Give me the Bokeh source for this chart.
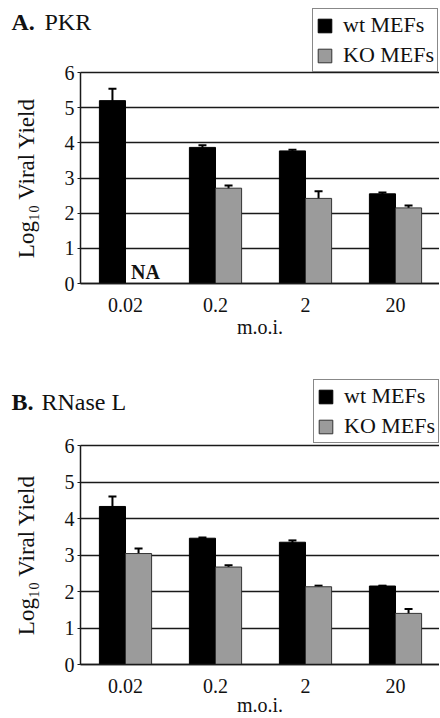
from bokeh.plotting import figure
from bokeh.models import (ColumnDataSource, Whisker, TeeHead, Label, Legend, LegendItem,
                          FixedTicker, Range1d)
from bokeh.layouts import column
from bokeh.embed import file_html
from bokeh.resources import INLINE
from bokeh.core.properties import value

categories = ["0.02", "0.2", "2", "20"]
y_ticks = [0, 1, 2, 3, 4, 5, 6]

pkr_wt = [5.2, 3.87, 3.77, 2.55]
pkr_wt_err = [0.34, 0.06, 0.03, 0.04]
pkr_ko = [0.0, 2.71, 2.42, 2.15]
pkr_ko_err = [0.0, 0.08, 0.2, 0.07]

rnase_wt = [4.33, 3.46, 3.35, 2.15]
rnase_wt_err = [0.27, 0.02, 0.05, 0.01]
rnase_ko = [3.04, 2.67, 2.13, 1.40]
rnase_ko_err = [0.14, 0.05, 0.03, 0.12]

titles = [("A.", "PKR"), ("B.", "RNase L")]
series_names = ["wt MEFs", "KO MEFs"]
x_label = "m.o.i."
y_label = "Log\u2081\u2080 Viral Yield"

FONT = "Liberation Serif"
WT_COLOR = "#000000"
KO_COLOR = "#9b9b9b"
KO_LINE = "#333333"
INK = "#111111"
BAR_W = 0.29
W = 439           # figure width in px
AX_LEFT = 80      # px from figure left to the y axis
CAT_PX = 90       # px per category


def make_panel(wt, wt_err, ko, ko_err, title, height, px_top, px_bottom, title_y, title2_x,
               legend_xy, xlabel_standoff, na=False):
    # px_top: px from figure top to the 6-line; px_bottom: px from 0-line to figure bottom
    unit = (height - px_top - px_bottom) / 6.0
    n = len(categories)
    x0 = -AX_LEFT / CAT_PX
    p = figure(width=W, height=height,
               x_range=Range1d(x0, x0 + W / CAT_PX),
               y_range=Range1d(-px_bottom / unit, 6 + px_top / unit),
               min_border=0, min_border_left=0, min_border_right=0,
               min_border_top=0, min_border_bottom=0,
               output_backend="svg", toolbar_location=None)
    p.outline_line_color = None
    p.xgrid.grid_line_color = None
    centers = [i + 0.5 for i in range(n)]

    yax = p.yaxis[0]
    xax = p.xaxis[0]
    yax.fixed_location = 0
    xax.fixed_location = 0
    yax.bounds = (0, 6)
    xax.bounds = (0, n)
    yax.ticker = FixedTicker(ticks=y_ticks)
    xax.ticker = FixedTicker(ticks=centers)
    xax.major_label_overrides = {c: cat for c, cat in zip(centers, categories)}
    yax.minor_tick_line_color = None
    xax.minor_tick_line_color = None
    yax.major_tick_out = 3
    yax.major_tick_in = 0
    yax.major_label_standoff = 3
    xax.major_label_standoff = 8
    for ax in (xax, yax):
        ax.axis_line_width = 1.5
        ax.axis_line_color = "#1a1a1a"
        ax.major_tick_line_color = "#1a1a1a" if ax is yax else None
        ax.major_label_text_font = FONT
        ax.major_label_text_font_size = "20px"
        ax.major_label_text_color = INK
        ax.axis_label_text_font = FONT
        ax.axis_label_text_font_style = "normal"
        ax.axis_label_text_color = INK
    xax.axis_label = x_label
    xax.axis_label_text_font_size = "20px"
    xax.axis_label_standoff = xlabel_standoff
    yax.axis_label = y_label
    yax.axis_label_text_font_size = "23px"
    yax.axis_label_standoff = 23

    g = p.ygrid[0]
    g.grid_line_color = "#1a1a1a"
    g.grid_line_width = 1.5
    g.ticker = FixedTicker(ticks=y_ticks)
    if "cross_bounds" in g.properties():
        g.cross_bounds = (0, n)
    else:
        g.grid_line_color = None
        p.segment(x0=[0] * len(y_ticks), x1=[n] * len(y_ticks), y0=y_ticks, y1=y_ticks,
                  line_color="#1a1a1a", line_width=1.5)

    xw = [c - BAR_W / 2 for c in centers]
    xk = [c + BAR_W / 2 for c in centers]
    src = ColumnDataSource(dict(x=xw, top=wt,
                                lo=[v - e for v, e in zip(wt, wt_err)],
                                hi=[v + e for v, e in zip(wt, wt_err)]))
    keep = [i for i in range(n) if not (na and i == 0)]
    ksrc = ColumnDataSource(dict(x=[xk[i] for i in keep], top=[ko[i] for i in keep],
                                 lo=[ko[i] - ko_err[i] for i in keep],
                                 hi=[ko[i] + ko_err[i] for i in keep]))
    r_wt = p.vbar(x="x", top="top", width=BAR_W, source=src,
                  fill_color=WT_COLOR, line_color="#000000", line_width=1)
    r_ko = p.vbar(x="x", top="top", width=BAR_W, source=ksrc,
                  fill_color=KO_COLOR, line_color=KO_LINE, line_width=1)
    for s in (src, ksrc):
        p.add_layout(Whisker(source=s, base="x", lower="lo", upper="hi",
                             line_color="#000000", line_width=2,
                             upper_head=TeeHead(size=8, line_width=2, line_color="#000000"),
                             lower_head=TeeHead(size=8, line_width=2, line_color="#000000")))
    if na:
        na_src = ColumnDataSource(dict(x=[xk[0]], y=[0.0], t=["NA"]))
        p.text(x="x", y="y", text="t", source=na_src,
               text_font=value(FONT), text_font_style="bold", text_font_size="20px",
               text_baseline="bottom", text_align="center", x_offset=7, y_offset=-1,
               text_color=INK)

    p.add_layout(Label(x=11, y=height - title_y, x_units="screen", y_units="screen",
                       text=title[0], text_font=FONT, text_font_style="bold",
                       text_font_size="24px", text_baseline="middle", text_color=INK))
    p.add_layout(Label(x=title2_x, y=height - title_y, x_units="screen", y_units="screen",
                       text=title[1], text_font=FONT, text_font_style="normal",
                       text_font_size="24px", text_baseline="middle", text_color=INK))

    legend = Legend(items=[LegendItem(label=series_names[0], renderers=[r_wt]),
                           LegendItem(label=series_names[1], renderers=[r_ko])],
                    location=legend_xy, margin=0, padding=3, spacing=4,
                    glyph_width=17, glyph_height=17, label_standoff=10, label_height=24,
                    label_text_font=FONT, label_text_font_size="22px",
                    label_text_color=INK,
                    border_line_color=INK, border_line_width=1.5,
                    background_fill_color="white", background_fill_alpha=1)
    p.add_layout(legend)
    return p


# panel A: figure spans page y 1..360; 6-line at 73, 0-line at 284
pa = make_panel(pkr_wt, pkr_wt_err, pkr_ko, pkr_ko_err, titles[0],
                359, 72, 76, 21, 44, (312, 287), 1, na=True)
# panel B: figure spans page y 360..718; 6-line at 446, 0-line at 665
pb = make_panel(rnase_wt, rnase_wt_err, rnase_ko, rnase_ko_err, titles[1],
                358, 86, 53, 42, 41, (313, 274), -2)

layout = column(pa, pb, spacing=0)
open("out.html", "w").write(file_html(layout, INLINE))
